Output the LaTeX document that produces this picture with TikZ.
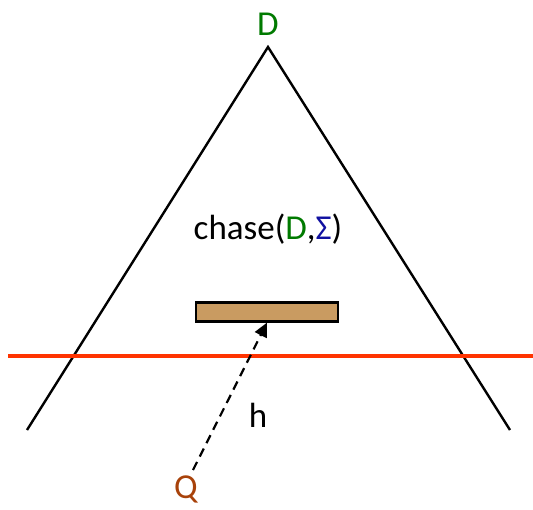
\documentclass[tikz,border=0pt]{standalone}
\usepackage{fontspec}
\setmainfont{Carlito}
\usepackage{tikz}
\usetikzlibrary{positioning, arrows.meta, calc}
\definecolor{dgreen}{HTML}{007A00}
\definecolor{sigblue}{HTML}{1010A0}
\definecolor{qbrown}{HTML}{A8420A}
\definecolor{cutred}{HTML}{FF3300}
\definecolor{boxtan}{HTML}{C99B61}

\begin{document}
\begin{tikzpicture}[x=1pt, y=-1pt,
      lbl/.style={inner sep=0pt, font=\fontsize{35}{42}\selectfont},
      tri/.style={line width=2.4pt, black},
      cut/.style={line width=3.8pt, color=cutred},
      bar/.style={rectangle, draw=black, fill=boxtan, line width=2.2pt,
        minimum width=142pt, minimum height=19pt, inner sep=0pt},
      arrow/.style={-{Triangle[length=14pt, width=13pt]}, line width=2.2pt,
        dash pattern=on 9pt off 6pt}]

    \useasboundingbox (0,0) rectangle (533,509);

    % triangle of the chase
    \coordinate (top) at (268,47);
    \coordinate (bl) at (27,430);
    \coordinate (br) at (510,430);
    \draw[tri] (bl) -- (top) -- (br);

    \node[lbl, text=dgreen] (d) at (268,24) {D};
    \node[lbl] (chase) at (268,229) {chase(\textcolor{dgreen}{D},\textcolor{sigblue}{Σ})};

    % the cut line
    \coordinate (cl) at (8,356);
    \coordinate (cr) at (533,356);
    \draw[cut] (cl) -- (cr);

    \node[bar] (img) at (267,312) {};

    \node[lbl, text=qbrown] (q) at (186,489) {Q};
    \node[lbl] (h) at (258,415) {h};

    \coordinate (qs) at (193,470);
    \draw[arrow] (qs) -- (img.south);
  \end{tikzpicture}
\end{document}
